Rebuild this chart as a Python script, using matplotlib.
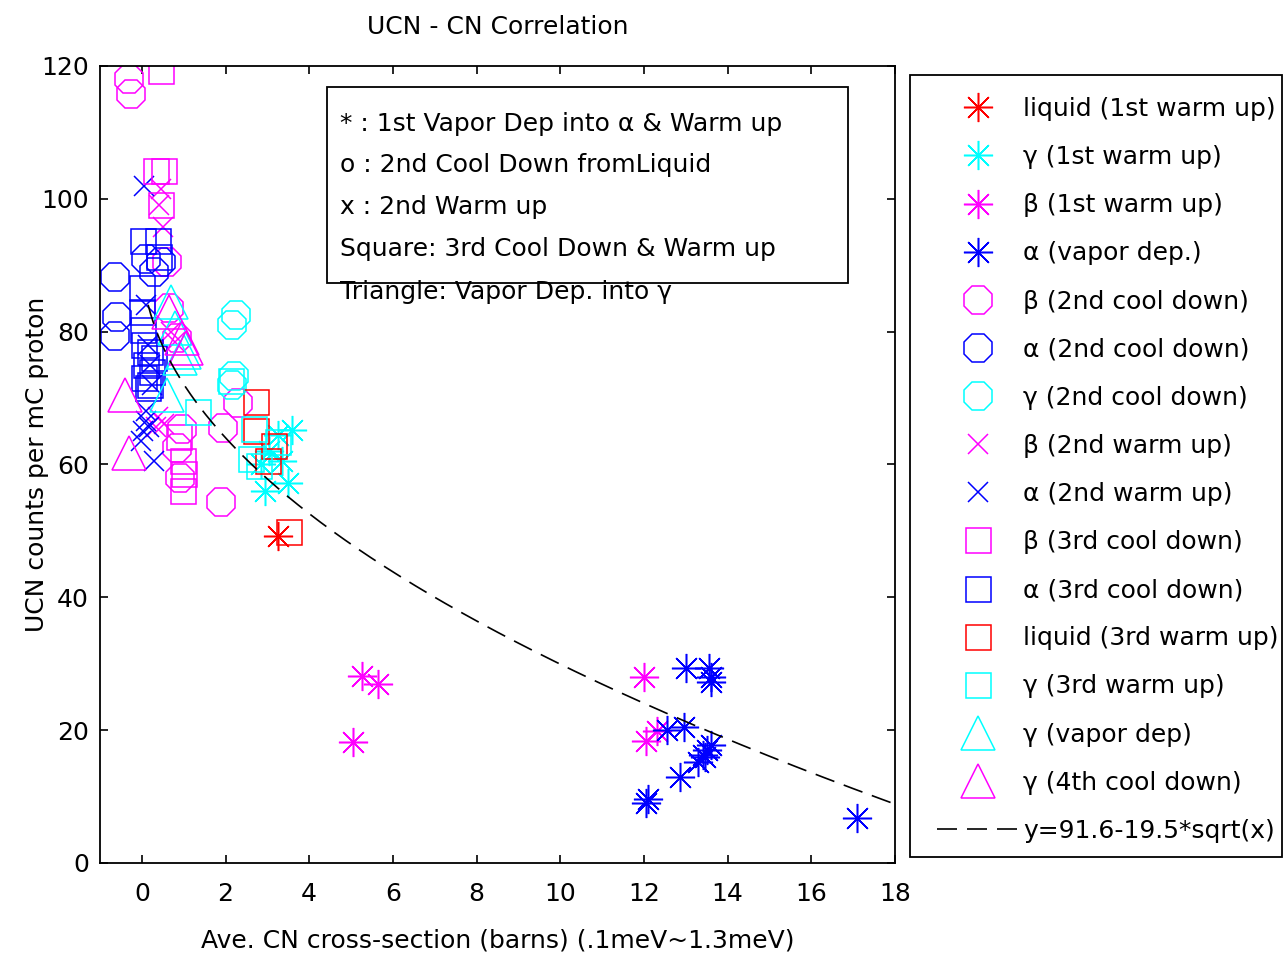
import numpy as np
import matplotlib
matplotlib.use("Agg")
import matplotlib.pyplot as plt
from matplotlib.patches import Rectangle

plt.rcParams['font.family'] = ['DejaVu Sans']

# ---------------- data ----------------
liq1_x = [3.25]
liq1_y = [49.3]
gam1_x = [2.95, 3.5, 3.6, 3.25, 3.05, 3.35, 2.85]
gam1_y = [56.0, 57.2, 65.2, 64.5, 62.0, 60.5, 60.0]
bet1_x = [5.25, 5.65, 5.05, 12.0, 12.05, 12.3]
bet1_y = [28.1, 27.0, 18.2, 28.0, 18.3, 19.8]
alpv_x = [13.0, 13.55, 13.6, 13.6, 12.55, 12.95, 13.4, 13.6, 13.3, 12.85, 12.1, 12.05, 17.1, 13.45, 13.5]
alpv_y = [29.3, 29.3, 27.2, 28.0, 20.0, 20.5, 16.3, 17.8, 15.2, 13.0, 9.6, 9.0, 6.8, 16.0, 17.0]
bet2c_x = [-0.3, -0.25, 0.6, 0.65, 0.85, 0.95, 0.9, 1.95, 1.9, 2.3, 0.85]
bet2c_y = [118.0, 115.8, 90.5, 83.5, 79.0, 65.3, 58.0, 65.5, 54.3, 69.3, 62.5]
alp2c_x = [-0.65, -0.6, -0.65, 0.1, 0.45, 0.3]
alp2c_y = [88.2, 82.2, 79.3, 91.0, 90.5, 89.0]
gam2c_x = [2.25, 2.15, 2.2, 2.15]
gam2c_y = [82.5, 81.0, 73.3, 72.0]
bet2w_x = [0.4, 0.5, 0.38, 0.53, 0.33, 0.7, 0.8, 0.45]
bet2w_y = [99.0, 95.8, 67.2, 66.1, 65.7, 80.0, 78.5, 101.5]
alp2w_x = [0.05, 0.1, 0.02, 0.17, -0.02, 0.29, 0.1, 0.2, 0.15, 0.25, 0.1]
alp2w_y = [102.0, 66.6, 65.0, 65.7, 63.5, 60.5, 68.1, 75.0, 78.0, 72.0, 84.0]
bet3c_x = [0.45, 0.33, 0.53, 0.45, 0.89, 0.98, 1.0, 0.98]
bet3c_y = [119.2, 104.2, 104.2, 99.0, 64.2, 60.5, 58.6, 56.0]
alp3c_x = [0.02, 0.38, 0.4, 0.0, 0.0, 0.02, 0.05, 0.2, 0.1, 0.25, 0.05, 0.2, 0.3, 0.15]
alp3c_y = [93.7, 93.6, 91.3, 86.5, 83.0, 80.2, 78.0, 77.0, 75.0, 74.0, 73.0, 72.0, 76.0, 71.5]
liq3w_x = [2.73, 2.73, 3.16, 3.01, 3.52]
liq3w_y = [69.4, 65.1, 62.8, 60.5, 49.8]
gam3w_x = [2.13, 2.6, 2.8, 3.25, 2.68, 1.34]
gam3w_y = [72.6, 60.8, 59.8, 63.4, 65.4, 67.9]
gamv_x = [0.7, 0.8, 1.0, 0.6, 0.9]
gamv_y = [84.5, 80.5, 77.0, 70.5, 76.0]
gam4c_x = [-0.4, -0.3, 0.65, 0.95, 1.05]
gam4c_y = [70.5, 61.8, 83.0, 79.0, 77.5]

fit_a, fit_b = 91.6, 19.5
fit_label = 'y=91.6-19.5*sqrt(x)'

labels = ['liquid (1st warm up)', 'γ (1st warm up)', 'β (1st warm up)', 'α (vapor dep.)',
          'β (2nd cool down)', 'α (2nd cool down)', 'γ (2nd cool down)',
          'β (2nd warm up)', 'α (2nd warm up)', 'β (3rd cool down)', 'α (3rd cool down)',
          'liquid (3rd warm up)', 'γ (3rd warm up)', 'γ (vapor dep)', 'γ (4th cool down)']

box_lines = ['* : 1st Vapor Dep into α & Warm up',
             'o : 2nd Cool Down fromLiquid',
             'x : 2nd Warm up',
             'Square: 3rd Cool Down & Warm up',
             'Triangle: Vapor Dep. into γ']

xticks = list(range(0, 19, 2))
yticks = list(range(0, 121, 20))

# ---------------- figure ----------------
W, H = 1284, 957
FS = 18
fig = plt.figure(figsize=(W / 100, H / 100), dpi=100)
ax = fig.add_axes([100 / W, 1 - 863 / H, 795 / W, 797 / H])

R, C, M, B = (1, 0, 0), (0, 1, 1), (1, 0, 1), (0, 0, 1)
ast = (8, 2, 0)
series = [
    (liq1_x, liq1_y, R, ast, 21),
    (gam1_x, gam1_y, C, ast, 21),
    (bet1_x, bet1_y, M, ast, 21),
    (alpv_x, alpv_y, B, ast, 21),
    (bet2c_x, bet2c_y, M, '8', 22),
    (alp2c_x, alp2c_y, B, '8', 22),
    (gam2c_x, gam2c_y, C, '8', 22),
    (bet2w_x, bet2w_y, M, 'x', 15),
    (alp2w_x, alp2w_y, B, 'x', 15),
    (bet3c_x, bet3c_y, M, 's', 18),
    (alp3c_x, alp3c_y, B, 's', 18),
    (liq3w_x, liq3w_y, R, 's', 18),
    (gam3w_x, gam3w_y, C, 's', 18),
    (gamv_x, gamv_y, C, '^', 25),
    (gam4c_x, gam4c_y, M, '^', 25),
]
handles = []
for (xs, ys, col, mk, ms), lab in zip(series, labels):
    h, = ax.plot(xs, ys, linestyle='none', marker=mk, markersize=ms,
                 markerfacecolor='none', markeredgecolor=col, markeredgewidth=1.1,
                 label=lab)
    handles.append(h)

xf = np.linspace(0.15, 18, 300)
hf, = ax.plot(xf, fit_a - fit_b * np.sqrt(xf), color='black', linewidth=1.2,
              dashes=(12, 6), label=fit_label)
handles.append(hf)

ax.set_xlim(-1, 18)
ax.set_ylim(0, 120)
ax.set_xticks(xticks)
ax.set_yticks(yticks)
ax.tick_params(direction='in', top=True, right=True, length=6, width=1.2,
               labelsize=FS, colors='black')
ax.tick_params(axis='x', pad=14)
ax.tick_params(axis='y', pad=8)
for sp in ax.spines.values():
    sp.set_linewidth(1.3)

ax.set_title('UCN - CN Correlation', fontsize=FS, pad=23)
ax.set_xlabel('Ave. CN cross-section (barns) (.1meV~1.3meV)', fontsize=FS, labelpad=16)
ax.set_ylabel('UCN counts per mC proton', fontsize=FS)
ax.yaxis.set_label_coords(-0.064, 0.5)

# annotation box
def fx(px):
    return (px - 100) / 795

def fy(py):
    return (863 - py) / 797

ax.add_patch(Rectangle((fx(327), fy(283)), fx(848) - fx(327), fy(87) - fy(283),
                       transform=ax.transAxes, facecolor='white', edgecolor='black',
                       linewidth=1.3, zorder=5))
for line, py in zip(box_lines, [124, 165, 207, 249, 292]):
    ax.text(fx(340), fy(py), line, transform=ax.transAxes, fontsize=FS,
            va='center', ha='left', zorder=6)

# legend with its own frame
fig.patches.append(Rectangle((910 / W, 1 - 857 / H), (1282 - 910) / W, (857 - 75) / H,
                             transform=fig.transFigure, facecolor='white',
                             edgecolor='black', linewidth=1.3, zorder=0))
leg = fig.legend(handles=handles, loc='upper left',
                 bbox_to_anchor=(937 / W, 1 - 97 / H), fontsize=FS,
                 frameon=False, numpoints=1, handlelength=3.3, handletextpad=0.15,
                 labelspacing=0.965, borderpad=0.0, borderaxespad=0.0)

fig.savefig('out.png', dpi=100, facecolor='white')
